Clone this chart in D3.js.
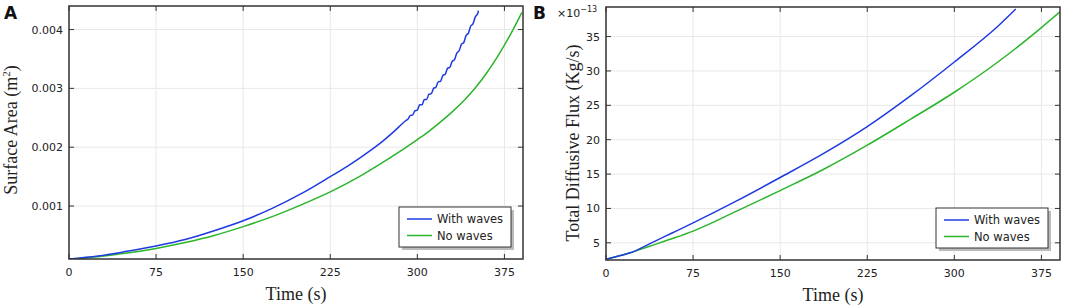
<!DOCTYPE html>
<html lang="en">
<head>
<meta charset="UTF-8">
<title>Surface area and diffusive flux</title>
<script src="https://d3js.org/d3.v7.min.js"></script>
<style>
  body { margin: 0; background: #fff; }
  .tick-label { font-family: "DejaVu Sans", sans-serif; font-size: 11px; fill: #222; }
  .axis-title { font-family: "Liberation Serif", "Times New Roman", serif; font-size: 18px; fill: #222; }
  .panel-tag { font-family: "DejaVu Sans", sans-serif; font-size: 17px; font-weight: bold; fill: #111; }
  .legend-text { font-family: "DejaVu Sans", sans-serif; font-size: 11.5px; fill: #222; }
</style>
</head>
<body>
<script>
// time ticks shared by both panels
const timeTicks = [0, 75, 150, 225, 300, 375];

// Panel A: surface area (m^2)
const areaTicks = [0.001, 0.002, 0.003, 0.004];
const areaWithWaves = [
  [0, 0.0001], [25, 0.00015], [50, 0.00023], [75, 0.00032], [100, 0.00043],
  [125, 0.00058], [150, 0.00075], [175, 0.00096], [200, 0.00121], [225, 0.0015],
  [240, 0.00168], [250, 0.00181], [260, 0.00195], [270, 0.0021], [280, 0.00227],
  [290, 0.00245], [292, 0.00248], [294, 0.00254], [296, 0.00255], [298, 0.00262],
  [300, 0.00263], [302, 0.00272], [304, 0.00272], [306, 0.00281],
  [308, 0.00281], [310, 0.0029], [312, 0.00291], [314, 0.003], [316, 0.00302],
  [318, 0.00311], [320, 0.00312], [322, 0.00322], [324, 0.00324], [326, 0.00334],
  [328, 0.00336], [330, 0.00346], [332, 0.00349], [334, 0.0036], [336, 0.00364],
  [338, 0.00375], [340, 0.00378], [342, 0.0039], [344, 0.00394], [346, 0.00406],
  [348, 0.0041], [350, 0.00422], [352, 0.00427], [352.6, 0.00432]
];
const areaNoWaves = [
  [0, 0.0001], [25, 0.00014], [50, 0.0002], [75, 0.00028], [100, 0.00038],
  [125, 0.0005], [150, 0.00065], [175, 0.00082], [200, 0.00102], [225, 0.00124],
  [250, 0.0015], [275, 0.0018], [300, 0.00213], [310, 0.00227], [320, 0.00243],
  [330, 0.0026], [340, 0.00279], [350, 0.00301], [360, 0.00327], [370, 0.00357],
  [380, 0.00391], [390, 0.00429]
];

// Panel B: total diffusive flux (x1e-13 kg/s)
const fluxTicks = [5, 10, 15, 20, 25, 30, 35];
const fluxWithWaves = [
  [0, 2.6], [10, 3.05], [21, 3.55], [37.5, 4.85], [56, 6.35], [75, 7.9],
  [112.5, 11.1], [150, 14.5], [187.5, 18.0], [225, 21.9], [262.5, 26.4],
  [300, 31.3], [337.5, 36.5], [352.9, 39.0]
];
const fluxNoWaves = [
  [0, 2.6], [10, 3.05], [21, 3.55], [37.5, 4.5], [56, 5.55], [75, 6.7],
  [112.5, 9.6], [150, 12.6], [187.5, 15.7], [225, 19.2], [262.5, 23.0],
  [300, 26.9], [337.5, 31.3], [375, 36.3], [391, 38.6]
];

const seriesNames = ["With waves", "No waves"];
const seriesColors = ["#1f3be0", "#2bb52b"];

const svg = d3.select("body").append("svg")
  .attr("width", 1065)
  .attr("height", 307);

function drawPanel(opt) {
  const x = d3.scaleLinear().domain([0, 391]).range([opt.left, opt.right]);
  const y = d3.scaleLinear().domain(opt.yDomain).range([opt.bottom, opt.top]);
  const g = svg.append("g");

  // grid
  g.selectAll(".vgrid").data(timeTicks).enter().append("line")
    .attr("x1", d => x(d)).attr("x2", d => x(d))
    .attr("y1", opt.top).attr("y2", opt.bottom)
    .attr("stroke", "#e8e8e8").attr("stroke-width", 1);
  g.selectAll(".hgrid").data(opt.yTicks).enter().append("line")
    .attr("x1", opt.left).attr("x2", opt.right)
    .attr("y1", d => y(d)).attr("y2", d => y(d))
    .attr("stroke", "#e8e8e8").attr("stroke-width", 1);

  // curves
  const line = d3.line().x(d => x(d[0])).y(d => y(d[1])).curve(d3.curveMonotoneX);
  const clipId = "clip" + opt.tag;
  svg.append("clipPath").attr("id", clipId).append("rect")
    .attr("x", opt.left).attr("y", opt.top)
    .attr("width", opt.right - opt.left).attr("height", opt.bottom - opt.top);
  [opt.noWaves, opt.withWaves].forEach((s, i) => {
    g.append("path").datum(s)
      .attr("clip-path", `url(#${clipId})`)
      .attr("fill", "none")
      .attr("stroke", seriesColors[1 - i])
      .attr("stroke-width", 1.5)
      .attr("d", line);
  });

  // frame
  g.append("rect")
    .attr("x", opt.left).attr("y", opt.top)
    .attr("width", opt.right - opt.left).attr("height", opt.bottom - opt.top)
    .attr("fill", "none").attr("stroke", "#333").attr("stroke-width", 1.5);

  // inward ticks on all four sides
  const tl = 5;
  timeTicks.forEach(t => {
    g.append("line").attr("x1", x(t)).attr("x2", x(t))
      .attr("y1", opt.bottom).attr("y2", opt.bottom - tl).attr("stroke", "#333");
    g.append("line").attr("x1", x(t)).attr("x2", x(t))
      .attr("y1", opt.top).attr("y2", opt.top + tl).attr("stroke", "#333");
  });
  opt.yTicks.forEach(v => {
    g.append("line").attr("x1", opt.left).attr("x2", opt.left + tl)
      .attr("y1", y(v)).attr("y2", y(v)).attr("stroke", "#333");
    g.append("line").attr("x1", opt.right).attr("x2", opt.right - tl)
      .attr("y1", y(v)).attr("y2", y(v)).attr("stroke", "#333");
  });

  // tick labels
  g.selectAll(".xl").data(timeTicks).enter().append("text")
    .attr("class", "tick-label")
    .attr("x", d => x(d)).attr("y", opt.bottom + 17)
    .attr("text-anchor", "middle")
    .text(d => d);
  g.selectAll(".yl").data(opt.yTicks).enter().append("text")
    .attr("class", "tick-label")
    .attr("x", opt.left - 6).attr("y", d => y(d) + 4)
    .attr("text-anchor", "end")
    .text(opt.yFormat);

  // axis titles
  g.append("text").attr("class", "axis-title")
    .attr("x", (opt.left + opt.right) / 2).attr("y", opt.bottom + 41)
    .attr("text-anchor", "middle")
    .text("Time (s)");
  const yt = g.append("text").attr("class", "axis-title")
    .attr("transform", `translate(${opt.yTitleX},${opt.yTitleY}) rotate(-90)`)
    .attr("text-anchor", "middle");
  opt.yTitle(yt);

  // panel tag
  g.append("text").attr("class", "panel-tag")
    .attr("x", opt.tagX).attr("y", 19).text(opt.tag);

  // legend
  const lx = opt.right - 124, ly = opt.bottom - 52, lw = 112, lh = 40;
  g.append("rect").attr("x", lx + 3).attr("y", ly + 3)
    .attr("width", lw).attr("height", lh).attr("fill", "#bbb");
  g.append("rect").attr("x", lx).attr("y", ly)
    .attr("width", lw).attr("height", lh)
    .attr("fill", "#fff").attr("stroke", "#333").attr("stroke-width", 1);
  seriesNames.forEach((name, i) => {
    const yy = ly + 12 + i * 16.5;
    g.append("line").attr("x1", lx + 8).attr("x2", lx + 33)
      .attr("y1", yy).attr("y2", yy)
      .attr("stroke", seriesColors[i]).attr("stroke-width", 1.5);
    g.append("text").attr("class", "legend-text")
      .attr("x", lx + 38).attr("y", yy + 4).text(name);
  });
  return g;
}

drawPanel({
  tag: "A", tagX: 4,
  left: 69, right: 523, top: 6, bottom: 259,
  yDomain: [0.0001, 0.0044], yTicks: areaTicks,
  yFormat: d3.format(".3f"),
  withWaves: areaWithWaves, noWaves: areaNoWaves,
  yTitleX: 17, yTitleY: 130,
  yTitle: t => {
    t.append("tspan").text("Surface Area (m");
    t.append("tspan").attr("font-size", "11px").attr("dy", -7).text("2");
    t.append("tspan").attr("dy", 7).text(")");
  }
});

const gB = drawPanel({
  tag: "B", tagX: 533,
  left: 606, right: 1060, top: 7, bottom: 260,
  yDomain: [2.5, 39.3], yTicks: fluxTicks,
  yFormat: d => d,
  withWaves: fluxWithWaves, noWaves: fluxNoWaves,
  yTitleX: 579, yTitleY: 143,
  yTitle: t => t.text("Total Diffusive Flux (Kg/s)")
});

// exponent marker for panel B
const ex = gB.append("text").attr("class", "tick-label")
  .attr("x", 557).attr("y", 17);
ex.append("tspan").text("\u00d710");
ex.append("tspan").attr("font-size", "8px").attr("dy", -5).text("\u221213");
</script>
</body>
</html>
